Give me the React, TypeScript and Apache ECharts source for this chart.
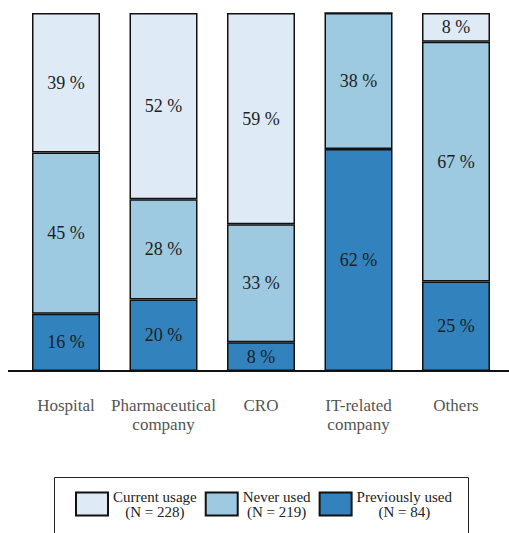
import React, { useEffect, useRef } from "react";
import * as echarts from "echarts";

const categories = ["Hospital", "Pharmaceutical\ncompany", "CRO", "IT-related\ncompany", "Others"];
const previouslyUsed = [16, 20, 8, 62, 25];
const neverUsed = [45, 28, 33, 38, 67];
const currentUsage = [39, 52, 59, 0, 8];
const legendNames = ["Current usage", "Never used", "Previously used"];
const legendCounts = ["(N = 228)", "(N = 219)", "(N = 84)"];

const FONT = "Liberation Serif";

export default function App() {
  const ref = useRef<HTMLDivElement>(null);
  useEffect(() => {
    if (!ref.current) return;
    const chart = echarts.init(ref.current, undefined, { renderer: "svg" });
    const mk = (name: string, data: number[], color: string) => ({
      name,
      type: "bar",
      stack: "total",
      barWidth: 68,
      data,
      itemStyle: { color, borderColor: "#111", borderWidth: 1.5 },
      label: {
        show: true,
        position: "inside",
        fontFamily: FONT,
        fontSize: 18,
        color: "#1e1e1e",
        formatter: (p: any) => (p.value ? p.value + " %" : ""),
      },
    });
    chart.setOption({
      animation: false,
      backgroundColor: "#fff",
      grid: { left: 17.25, width: 487.5, top: 13, height: 358 },
      xAxis: {
        type: "category",
        data: categories,
        axisLine: { show: false },
        axisTick: { show: false },
        axisLabel: {
          fontFamily: FONT,
          fontSize: 17,
          color: "#555",
          margin: 25,
          lineHeight: 19,
          interval: 0,
        },
      },
      yAxis: { type: "value", min: 0, max: 100, show: false },
      legend: {
        data: legendNames,
        left: 54,
        top: 477,
        padding: [12, 15, 10, 21],
        borderWidth: 0,
        itemWidth: 32,
        itemHeight: 23,
        itemGap: 8,
        icon: "rect",
        formatter: (name: string) => {
          const i = legendNames.indexOf(name);
          return "{a|" + name + "}\n{a|" + legendCounts[i] + "}";
        },
        textStyle: {
          fontFamily: FONT,
          fontSize: 15,
          color: "#222",
          rich: { a: { align: "center", fontFamily: FONT, fontSize: 15, lineHeight: 15, color: "#222" } },
        },
      },
      graphic: [
        {
          type: "line",
          shape: { x1: 8, y1: 371, x2: 509, y2: 371 },
          style: { stroke: "#111", lineWidth: 2 },
          z: 100,
        },
        {
          type: "rect",
          shape: { x: 54.5, y: 477.5, width: 414, height: 80 },
          style: { fill: "none", stroke: "#222", lineWidth: 1 },
          silent: true,
        },
      ],
      series: [
        mk("Previously used", previouslyUsed, "#3182bd"),
        mk("Never used", neverUsed, "#9ecae1"),
        mk("Current usage", currentUsage, "#deebf7"),
      ],
    });
    return () => chart.dispose();
  }, []);
  return <div ref={ref} style={{ position: "fixed", left: 0, top: 0, width: 509, height: 533 }} />;
}
